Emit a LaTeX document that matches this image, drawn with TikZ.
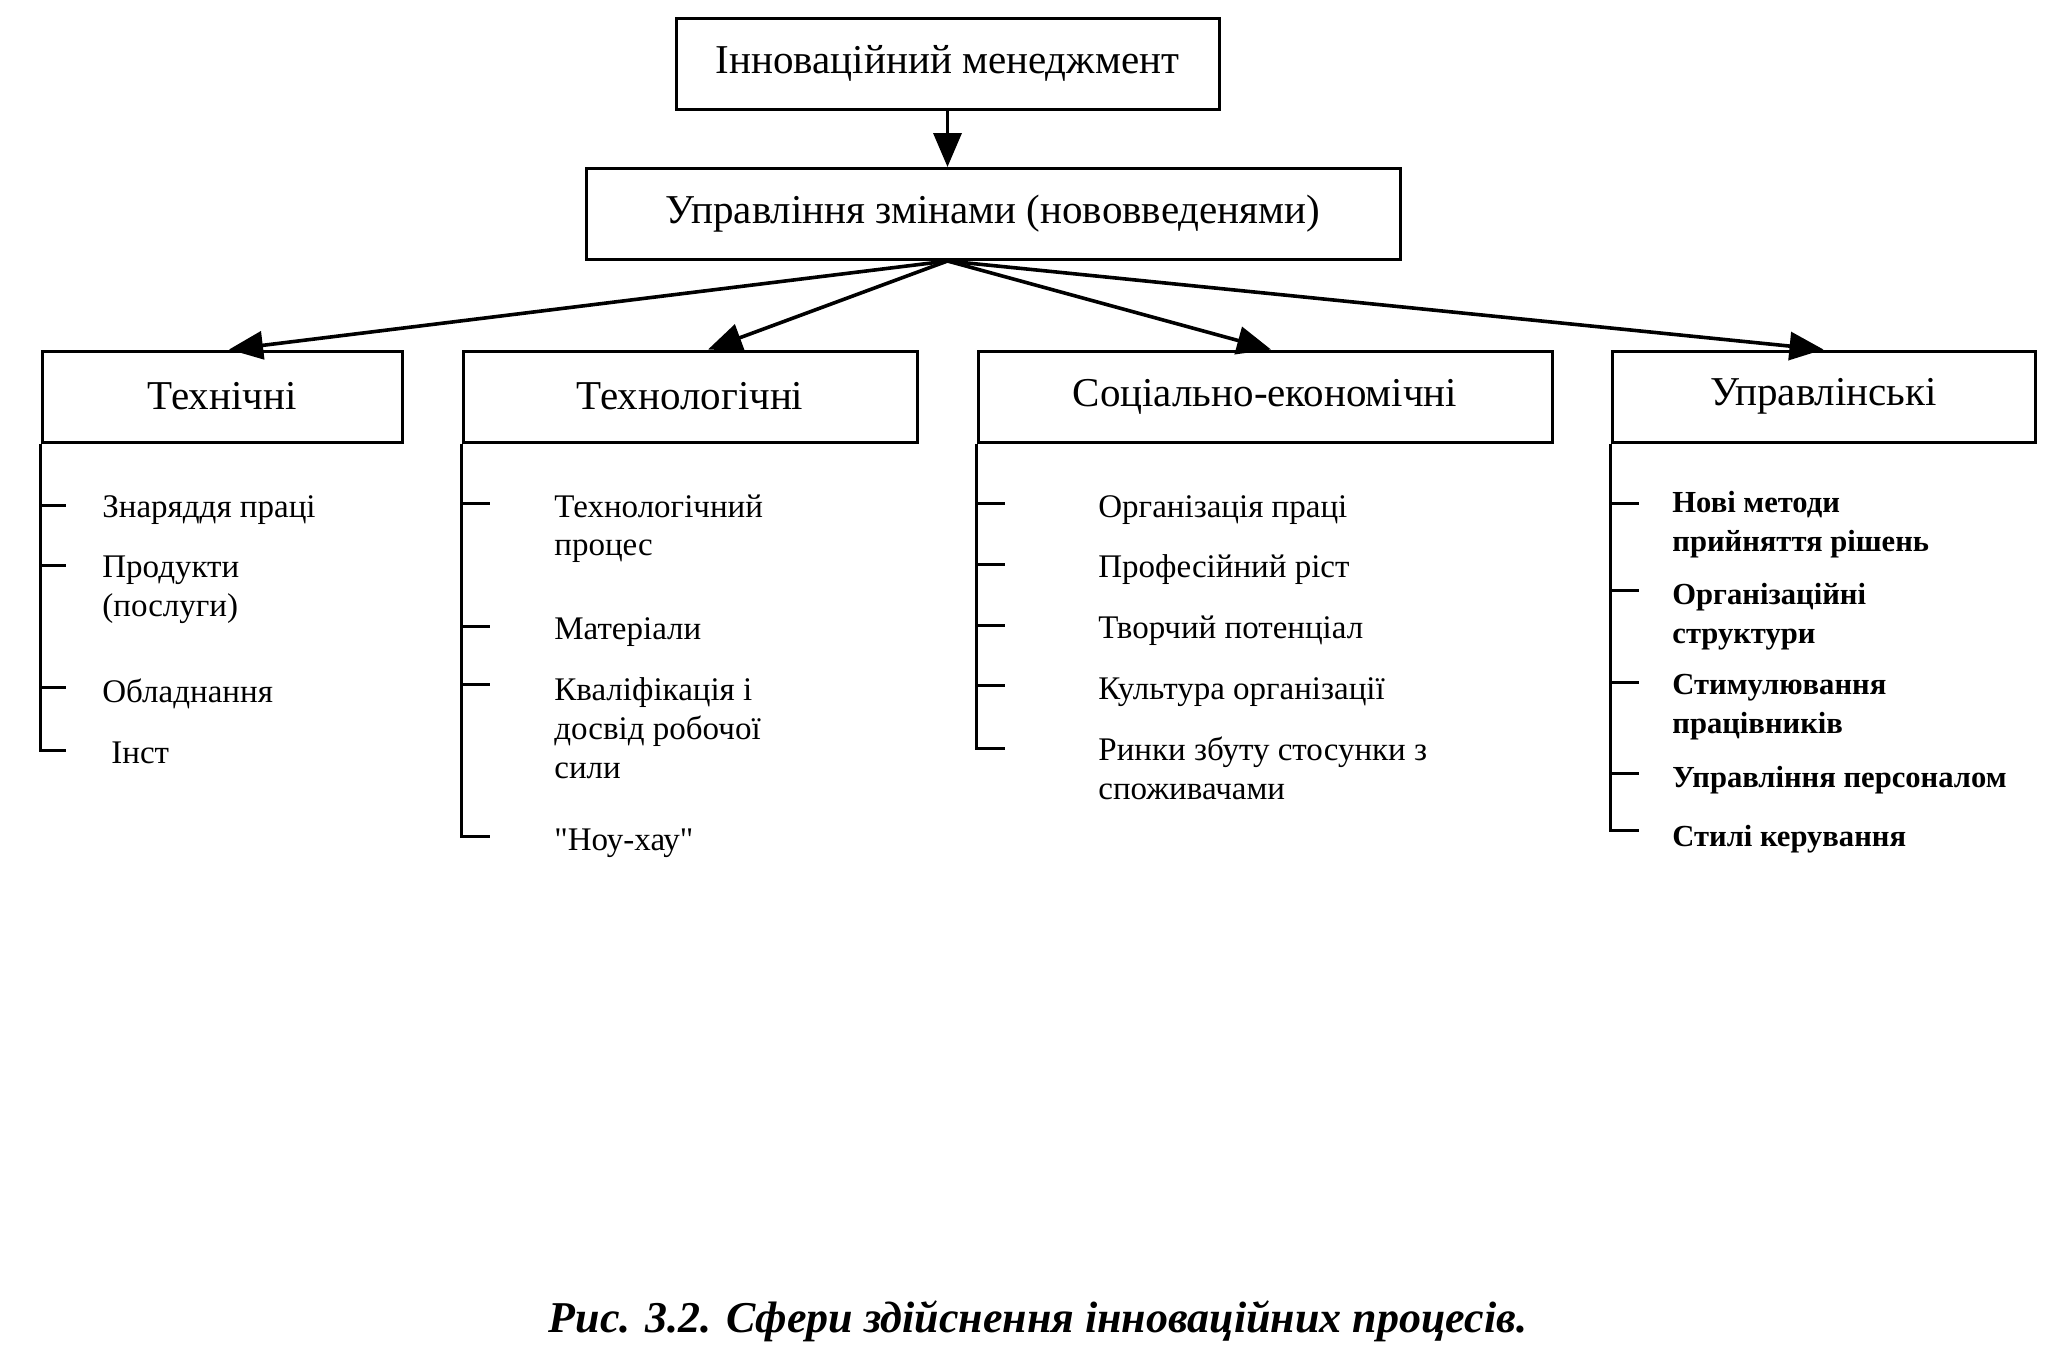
\documentclass[tikz,border=0pt]{standalone}
\usepackage{fontspec}
\setmainfont{Liberation Serif}
\newfontfamily\qfont{Liberation Serif}
\usetikzlibrary{arrows.meta}
\begin{document}
\begin{tikzpicture}[x=0.5pt,y=-0.5pt,
 box/.style={draw,line width=1.5pt,minimum height=45.5pt,inner sep=0pt,font=\fontsize{20.5}{24}\selectfont},
 item/.style={anchor=north west,inner sep=0pt,align=left,font=\fontsize{16.5}{19.5}\selectfont},
 itemb/.style={item,font=\bfseries\fontsize{15.3}{19.5}\selectfont},
 arr/.style={line width=1.8pt,-{Triangle[length=17pt,width=14pt]}},
 tree/.style={line width=1.5pt}]
\fill[white] (0,0) rectangle (2055,1355);
\useasboundingbox (0,0) rectangle (2055,1355);

% boxes
\node[box,minimum width=271.5pt] (top) at (947.5,63.5) {Інноваційний менеджмент};
\node[box,minimum width=407pt] (mid) at (993,214) {Управління змінами (нововведенями)};
\node[box,minimum width=180pt] (tech) at (222,396.5) {Технічні};
\node[box,minimum width=227pt] (tlg) at (690,396.5) {Технологічні};
\node[box,minimum width=287pt] (soc) at (1265,396.5) {Соціально-економічні};
\node[box,minimum width=211.5pt] (upr) at (1823.5,396.5) {Управлінські};

% arrows
\coordinate (fan) at (top.south |- mid.south);
\coordinate (tA) at ([xshift=3.5pt]tech.north);
\coordinate (tB) at ([xshift=9pt]tlg.north);
\coordinate (tC) at ([xshift=3pt]soc.north);
\coordinate (tD) at (upr.north);
\draw[arr] (top.south) -- (top.south |- mid.north);
\draw[arr] (fan) -- (tA);
\draw[arr] (fan) -- (tB);
\draw[arr] (fan) -- (tC);
\draw[arr] (fan) -- (tD);

% Технічні list
\draw[tree] (tech.south west) -- (tech.south west |- 0,750) -- ++(25,0);
\foreach \yy in {505,565,687} \draw[tree] (tech.south west |- 0,\yy) -- ++(25,0);
\node[item] (a1) at (102,495) {Знаряддя праці};
\node[item] (a2) at (102,555) {Продукти\\(послуги)};
\node[item] (a3) at (102,678) {Обладнання};
\node[item] (a4) at (111,741) {Інст};

% Технологічні list
\draw[tree] (tlg.south west) -- (tlg.south west |- 0,836) -- ++(28,0);
\foreach \yy in {503,626,684} \draw[tree] (tlg.south west |- 0,\yy) -- ++(28,0);
\node[item] (b1) at (554,494) {Технологічний\\процес};
\node[item] (b2) at (554,617) {Матеріали};
\node[item] (b3) at (554,677) {Кваліфікація і\\досвід робочої\\сили};
\node[item] (b4) at (554,828) {{\qfont"}Ноу-хау{\qfont"}};

% Соціально-економічні list
\draw[tree] (soc.south west) -- (soc.south west |- 0,748) -- ++(28,0);
\foreach \yy in {503,564,625,685} \draw[tree] (soc.south west |- 0,\yy) -- ++(28,0);
\node[item] (c1) at (1098,495) {Організація праці};
\node[item] (c2) at (1098,554) {Професійний ріст};
\node[item] (c3) at (1098,615) {Творчий потенціал};
\node[item] (c4) at (1098,677) {Культура організації};
\node[item] (c5) at (1098,736) {Ринки збуту стосунки з\\споживачами};

% Управлінські list
\draw[tree] (upr.south west) -- (upr.south west |- 0,830) -- ++(28,0);
\foreach \yy in {503,590,682,773} \draw[tree] (upr.south west |- 0,\yy) -- ++(28,0);
\node[itemb] (d1) at (1672,491) {Нові методи\\прийняття рішень};
\node[itemb] (d2) at (1672,583) {Організаційні\\структури};
\node[itemb] (d3) at (1672,674) {Стимулювання\\працівників};
\node[itemb] (d4) at (1672,766) {Управління персоналом};
\node[itemb] (d5) at (1672,825) {Стилі керування};

% caption
\node[font=\bfseries\itshape\fontsize{22}{26}\selectfont] (cap) at (1038,1321) {Рис. 3.2. Сфери здійснення інноваційних процесів.};
\end{tikzpicture}
\end{document}
